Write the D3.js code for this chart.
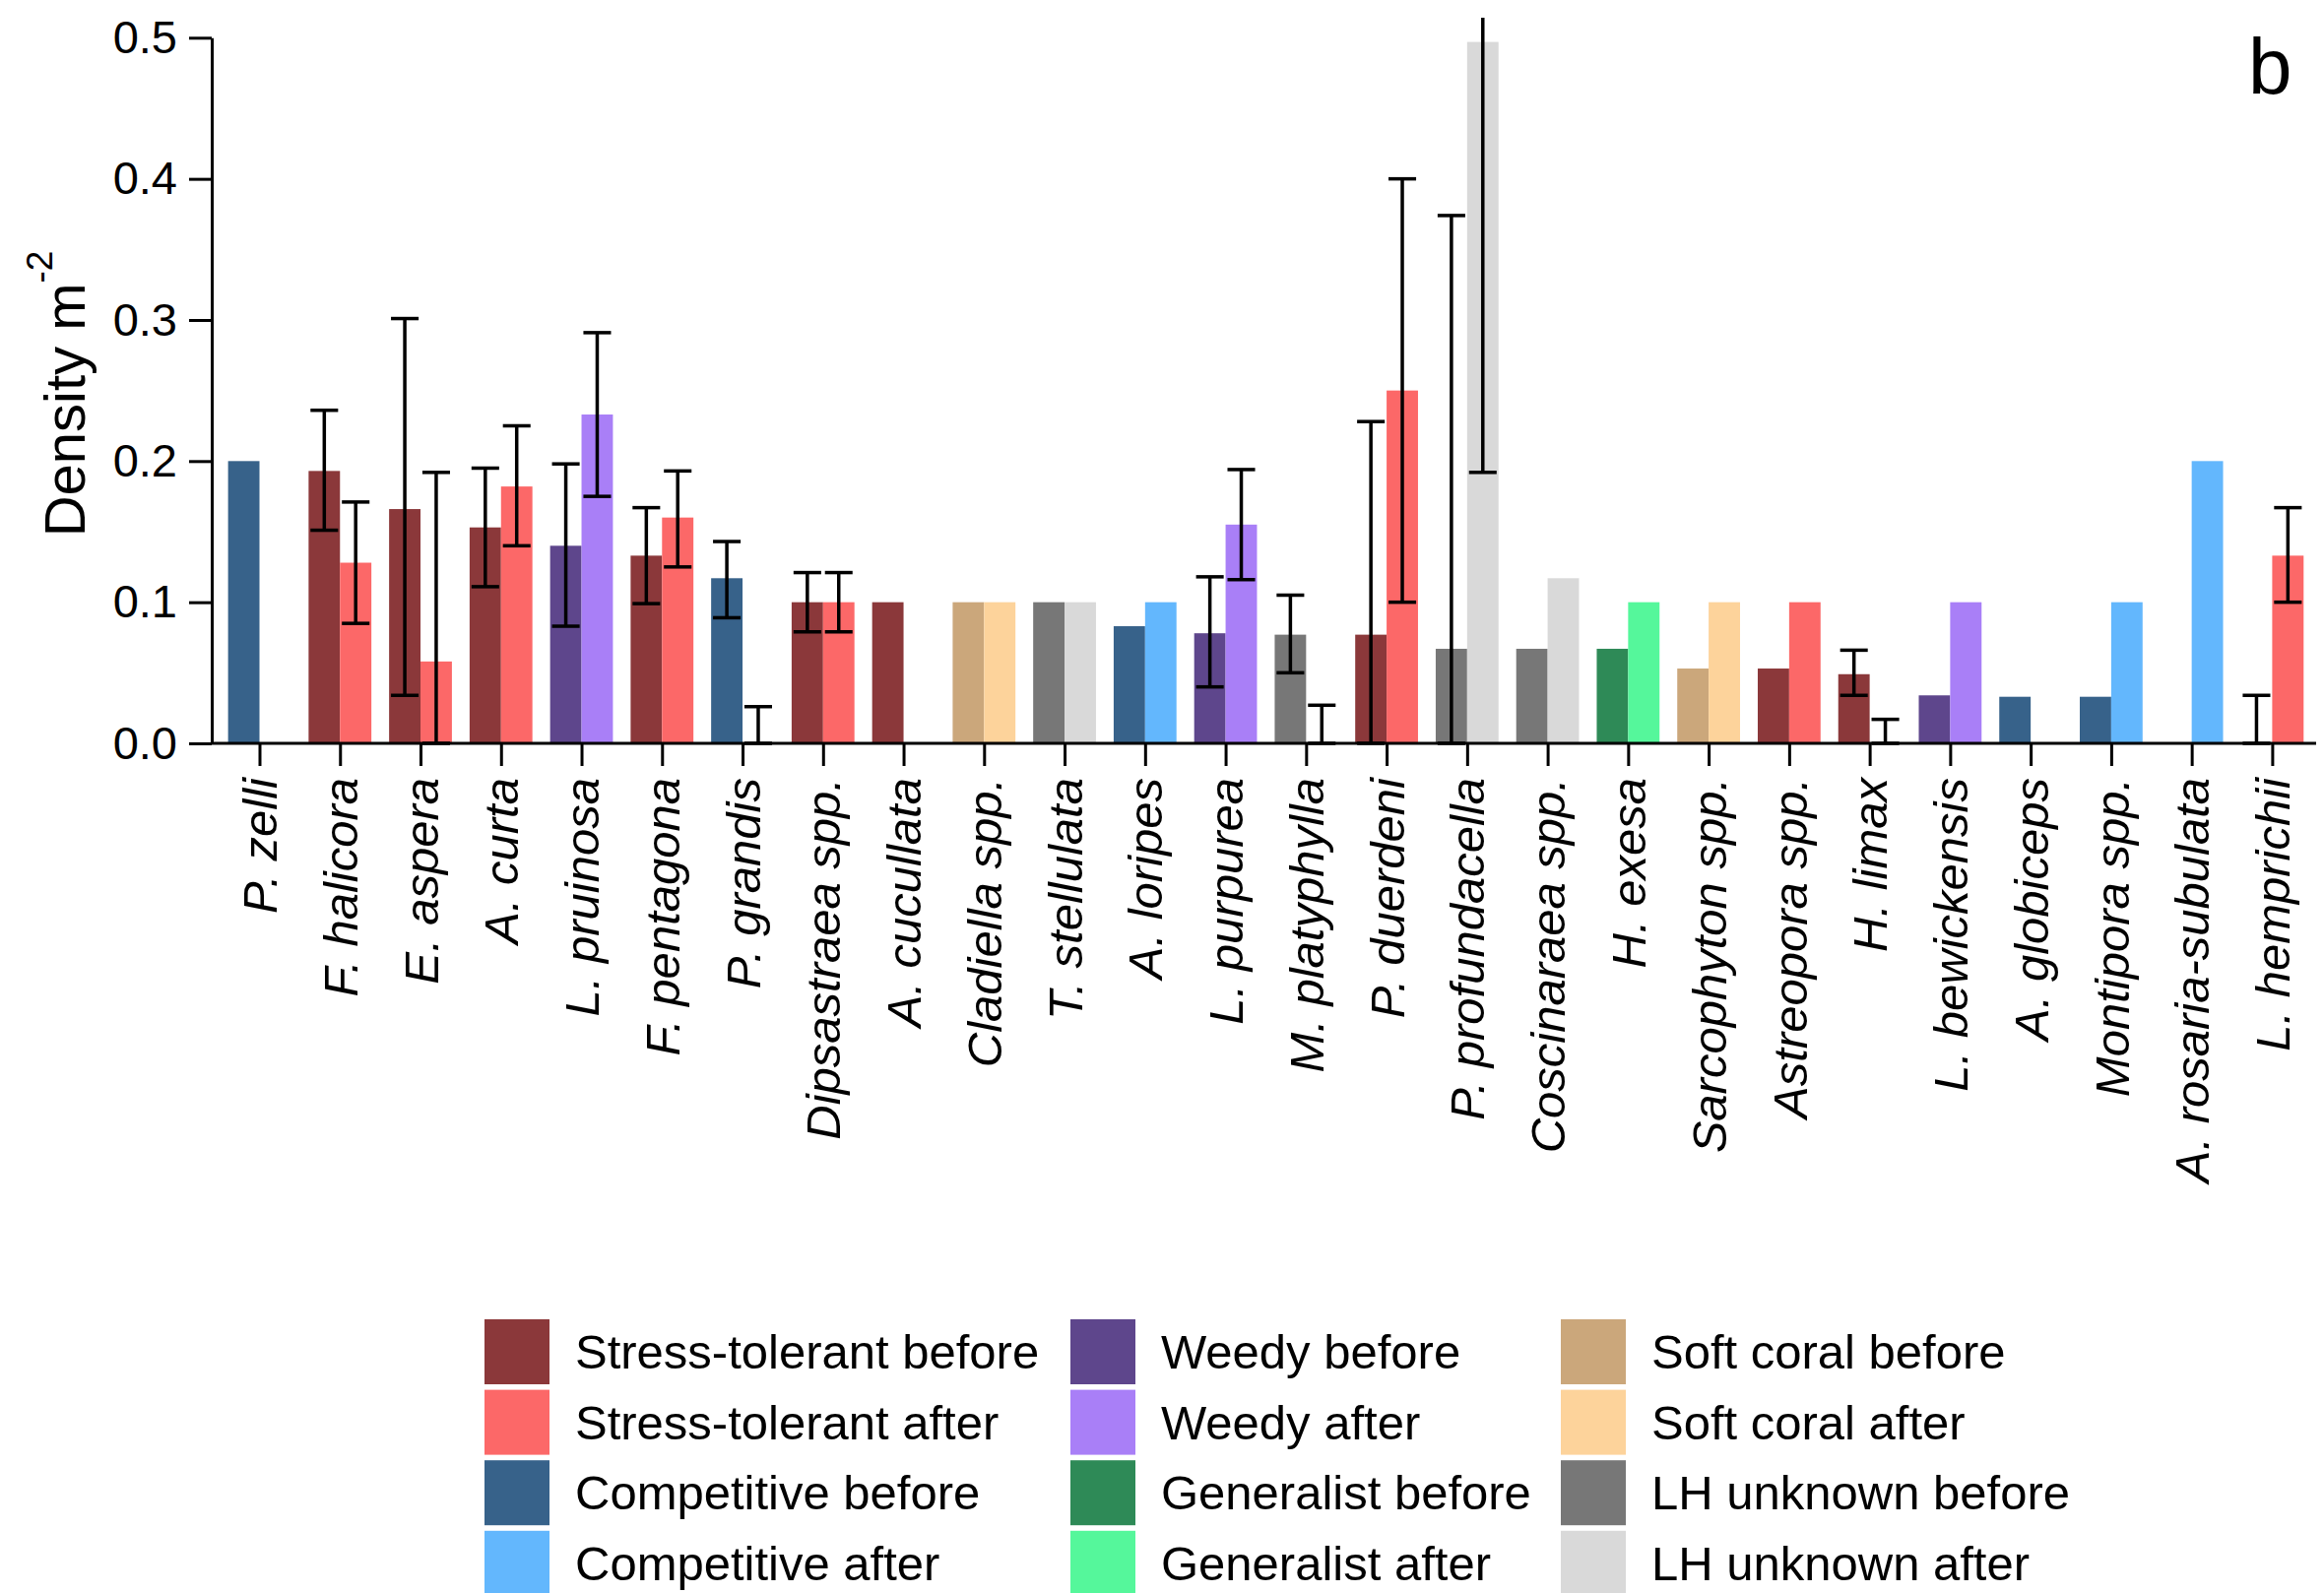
<!DOCTYPE html>
<html lang="en">
<head>
<meta charset="utf-8">
<title>Density m-2 before and after, by life history</title>
<script src="https://d3js.org/d3.v7.min.js"></script>
<style>
	body { margin: 0; background: #fff; }
	svg { display: block; font-family: "Liberation Sans", Arial, sans-serif; }
	.axis path, .axis line { stroke: #000; stroke-width: 3px; }
	.axis text { fill: #000; font-size: 47px; }
	.err { stroke: #000; stroke-width: 3.5px; fill: none; }
	.legend text { font-size: 49px; fill: #000; }
</style>
</head>
<body>
<script>

// species, in plotting order
var categories = ["P. zelli", "F. halicora", "E. aspera", "A. curta", "L. pruinosa", "F. pentagona",
	"P. grandis", "Dipsastraea spp.", "A. cucullata", "Cladiella spp.", "T. stellulata", "A. loripes",
	"L. purpurea", "M. platyphylla", "P. duerdeni", "P. profundacella", "Coscinaraea spp.", "H. exesa",
	"Sarcophyton spp.", "Astreopora spp.", "H. limax", "L. bewickensis", "A. globiceps", "Montipora spp.",
	"A. rosaria-subulata", "L. hemprichii"];

// life history group of each species
var lifeHistory = ["Competitive", "Stress-tolerant", "Stress-tolerant", "Stress-tolerant", "Weedy", "Stress-tolerant",
	"Competitive", "Stress-tolerant", "Stress-tolerant", "Soft coral", "LH unknown", "Competitive",
	"Weedy", "LH unknown", "Stress-tolerant", "LH unknown", "LH unknown", "Generalist",
	"Soft coral", "Stress-tolerant", "Stress-tolerant", "Weedy", "Competitive", "Competitive",
	"Competitive", "Stress-tolerant"];

// density before (null = no bar)
var beforeMean = [0.200, 0.193, 0.166, 0.153, 0.140, 0.133, 0.117, 0.100, 0.100, 0.100, 0.100, 0.083,
	0.078, 0.077, 0.077, 0.067, 0.067, 0.067, 0.053, 0.053, 0.049, 0.034, 0.033, 0.033, null, 0];
var beforeLow = [null, 0.151, 0.034, 0.111, 0.083, 0.099, 0.089, 0.079, null, null, null, null,
	0.040, 0.050, 0, 0, null, null, null, null, 0.034, null, null, null, null, 0];
var beforeHigh = [null, 0.236, 0.301, 0.195, 0.198, 0.167, 0.143, 0.121, null, null, null, null,
	0.118, 0.105, 0.228, 0.374, null, null, null, null, 0.066, null, null, null, null, 0.034];

// density after
var afterMean = [null, 0.128, 0.058, 0.182, 0.233, 0.160, 0, 0.100, null, 0.100, 0.100, 0.100,
	0.155, 0, 0.250, 0.497, 0.117, 0.100, 0.100, 0.100, 0, 0.100, null, 0.100, 0.200, 0.133];
var afterLow = [null, 0.085, 0, 0.140, 0.175, 0.125, 0, 0.079, null, null, null, null,
	0.116, 0, 0.100, 0.192, null, null, null, null, 0, null, null, null, null, 0.100];
var afterHigh = [null, 0.171, 0.192, 0.225, 0.291, 0.193, 0.026, 0.121, null, null, null, null,
	0.194, 0.027, 0.400, 0.804, null, null, null, null, 0.017, null, null, null, null, 0.167];

var yTicks = [0, 0.1, 0.2, 0.3, 0.4, 0.5];

var groups = ["Stress-tolerant", "Competitive", "Weedy", "Generalist", "Soft coral", "LH unknown"];
var periods = ["before", "after"];
var beforeColors = ["#8b383a", "#37628a", "#5e468c", "#2e8a57", "#cba77b", "#777777"];
var afterColors = ["#fc6868", "#63b7fd", "#a97ff7", "#55f79b", "#fdd39b", "#d9d9d9"];

//Width and height
var w = 2360;
var h = 1618;
var mLeft = 215, mRight = 2352, mTop = 38.3, mBottom = 755;

var colorBefore = d3.scaleOrdinal().domain(groups).range(beforeColors);
var colorAfter = d3.scaleOrdinal().domain(groups).range(afterColors);

var x = d3.scalePoint()
	.domain(categories)
	.range([263.5, 2307.4]);
var barW = x.step() * 0.39;

var y = d3.scaleLinear()
	.domain([0, 0.5])
	.range([mBottom, mTop]);

var svg = d3.select("body")
	.append("svg")
	.attr("width", w)
	.attr("height", h);

svg.append("clipPath")
	.attr("id", "plotclip")
	.append("rect")
	.attr("x", 0)
	.attr("y", 18)
	.attr("width", w)
	.attr("height", h);

//Build bars from the arrays
var bars = [];
categories.forEach(function(c, i) {
	bars.push({ cat: c, side: "before", group: lifeHistory[i], v: beforeMean[i], lo: beforeLow[i], hi: beforeHigh[i] });
	bars.push({ cat: c, side: "after", group: lifeHistory[i], v: afterMean[i], lo: afterLow[i], hi: afterHigh[i] });
});

function barX(d) {
	return d.side === "before" ? x(d.cat) - barW : x(d.cat);
}

var plot = svg.append("g").attr("clip-path", "url(#plotclip)");

plot.selectAll("rect.bar")
	.data(bars.filter(function(d) { return d.v !== null && d.v > 0; }))
	.enter()
	.append("rect")
	.attr("class", "bar")
	.attr("x", barX)
	.attr("width", barW)
	.attr("y", function(d) { return y(d.v); })
	.attr("height", function(d) { return y(0) - y(d.v); })
	.style("fill", function(d) {
		return d.side === "before" ? colorBefore(d.group) : colorAfter(d.group);
	});

//Error bars
var capW = barW * 0.88;
var errs = plot.selectAll("g.err")
	.data(bars.filter(function(d) { return d.lo !== null && d.hi !== null; }))
	.enter()
	.append("g")
	.attr("class", "err")
	.attr("transform", function(d) { return "translate(" + (barX(d) + barW / 2) + ",0)"; });

errs.append("line")
	.attr("x1", 0).attr("x2", 0)
	.attr("y1", function(d) { return y(d.lo); })
	.attr("y2", function(d) { return y(d.hi); });
errs.append("line")
	.attr("x1", -capW / 2).attr("x2", capW / 2)
	.attr("y1", function(d) { return y(d.hi); })
	.attr("y2", function(d) { return y(d.hi); });
errs.append("line")
	.attr("x1", -capW / 2).attr("x2", capW / 2)
	.attr("y1", function(d) { return y(d.lo); })
	.attr("y2", function(d) { return y(d.lo); });

//Axes
var yAxis = svg.append("g")
	.attr("class", "axis")
	.attr("transform", "translate(" + mLeft + ",0)")
	.call(d3.axisLeft(y).tickValues(yTicks).tickFormat(d3.format(".1f")).tickSize(23).tickSizeOuter(0).tickPadding(12));

var xAxis = svg.append("g")
	.attr("class", "axis")
	.attr("transform", "translate(0," + mBottom + ")")
	.call(d3.axisBottom(x).tickSize(23).tickSizeOuter(0));

xAxis.select(".domain")
	.attr("d", "M" + mLeft + ",0H" + mRight);

xAxis.selectAll(".tick text")
	.attr("transform", "rotate(-90)")
	.attr("x", -35)
	.attr("y", 0)
	.attr("dy", "0.35em")
	.style("text-anchor", "end")
	.style("font-style", "italic")
	.style("font-size", "49px");

//Y label
var ylab = svg.append("text")
	.attr("transform", "translate(86," + 400 + ")rotate(-90)")
	.attr("text-anchor", "middle")
	.style("font-size", "58px");
ylab.append("tspan").text("Density m");
ylab.append("tspan").attr("dy", -33).style("font-size", "37px").text("-2");

//Panel letter
svg.append("text")
	.attr("x", 2283)
	.attr("y", 95)
	.style("font-size", "80px")
	.text("b");

//Legend
var legendItems = [];
groups.forEach(function(g) {
	periods.forEach(function(p) {
		legendItems.push({ label: g + " " + p, color: p === "before" ? colorBefore(g) : colorAfter(g) });
	});
});
var legendX = [492, 1087, 1585];
var rowStep = 71.6, sw = 66;

var legend = svg.append("g").attr("class", "legend");
var item = legend.selectAll("g")
	.data(legendItems)
	.enter()
	.append("g")
	.attr("transform", function(d, k) {
		return "translate(" + legendX[Math.floor(k / 4)] + "," + (1340 + (k % 4) * rowStep) + ")";
	});
item.append("rect")
	.attr("width", sw)
	.attr("height", sw)
	.style("fill", function(d) { return d.color; });
item.append("text")
	.attr("x", 92)
	.attr("y", sw / 2)
	.attr("dy", "0.35em")
	.text(function(d) { return d.label; });

</script>
</body>
</html>
